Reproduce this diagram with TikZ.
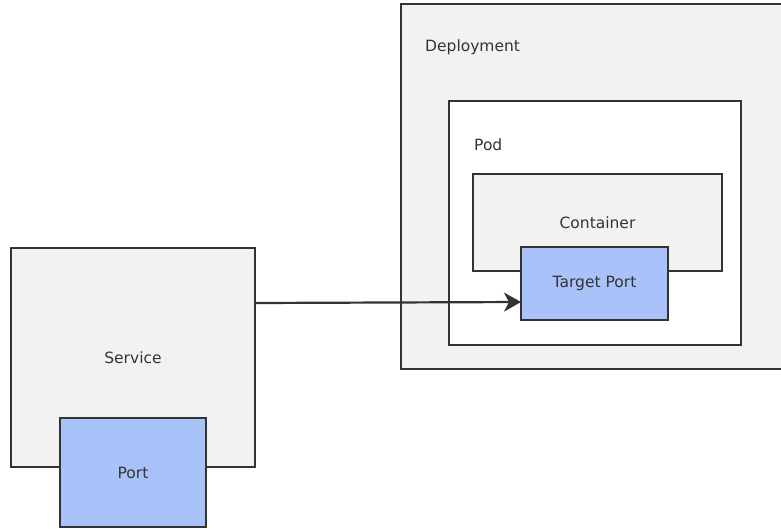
\documentclass[tikz,border=0pt]{standalone}
\usepackage{fontspec}
\setmainfont{DejaVu Sans}
\usetikzlibrary{arrows.meta}
\definecolor{edge}{HTML}{333333}
\definecolor{grayfill}{HTML}{F2F2F2}
\definecolor{bluefill}{HTML}{A9C2FA}
\tikzset{
  box/.style={draw=edge, line width=2.2pt, inner sep=0pt, outer sep=0pt, anchor=north west},
  lbl/.style={text=edge, font=\fontsize{15.5}{18}\selectfont, inner sep=0pt},
  conn/.style={draw=edge, line width=2.2pt, -{Stealth[length=17pt,width=19pt,inset=5pt]}}
}
\begin{document}
\begin{tikzpicture}[x=1pt,y=-1pt]
\useasboundingbox (0,0) rectangle (781,528);
\clip (0,0) rectangle (781,528);
% Deployment
\node[box, fill=grayfill, minimum width=420pt, minimum height=365pt] (dep) at (401,4) {};
\node[lbl, anchor=west] (deplbl) at (425,47) {Deployment};
% Pod
\node[box, fill=white, minimum width=292pt, minimum height=244pt] (pod) at (449,101) {};
\node[lbl, anchor=west] (podlbl) at (474,145) {Pod};
% Container
\node[box, fill=grayfill, minimum width=249pt, minimum height=97pt] (ctr) at (473,174) {};
\node[lbl] (ctrlbl) at (597.5,222.5) {Container};
% Target Port
\node[box, fill=bluefill, minimum width=147pt, minimum height=73pt] (tp) at (521,247) {};
\node[lbl] (tplbl) at (tp.center) {Target Port};
% Service
\node[box, fill=grayfill, minimum width=244pt, minimum height=219pt] (svc) at (11,248) {};
\node[lbl] (svclbl) at (svc.center) {Service};
% Port
\node[box, fill=bluefill, minimum width=146pt, minimum height=109pt] (port) at (60,418) {};
\node[lbl] (portlbl) at (port.center) {Port};
% Connector
\draw[conn] ([yshift=-55pt]svc.north east) -- ([yshift=18pt]tp.south west);
\end{tikzpicture}
\end{document}
